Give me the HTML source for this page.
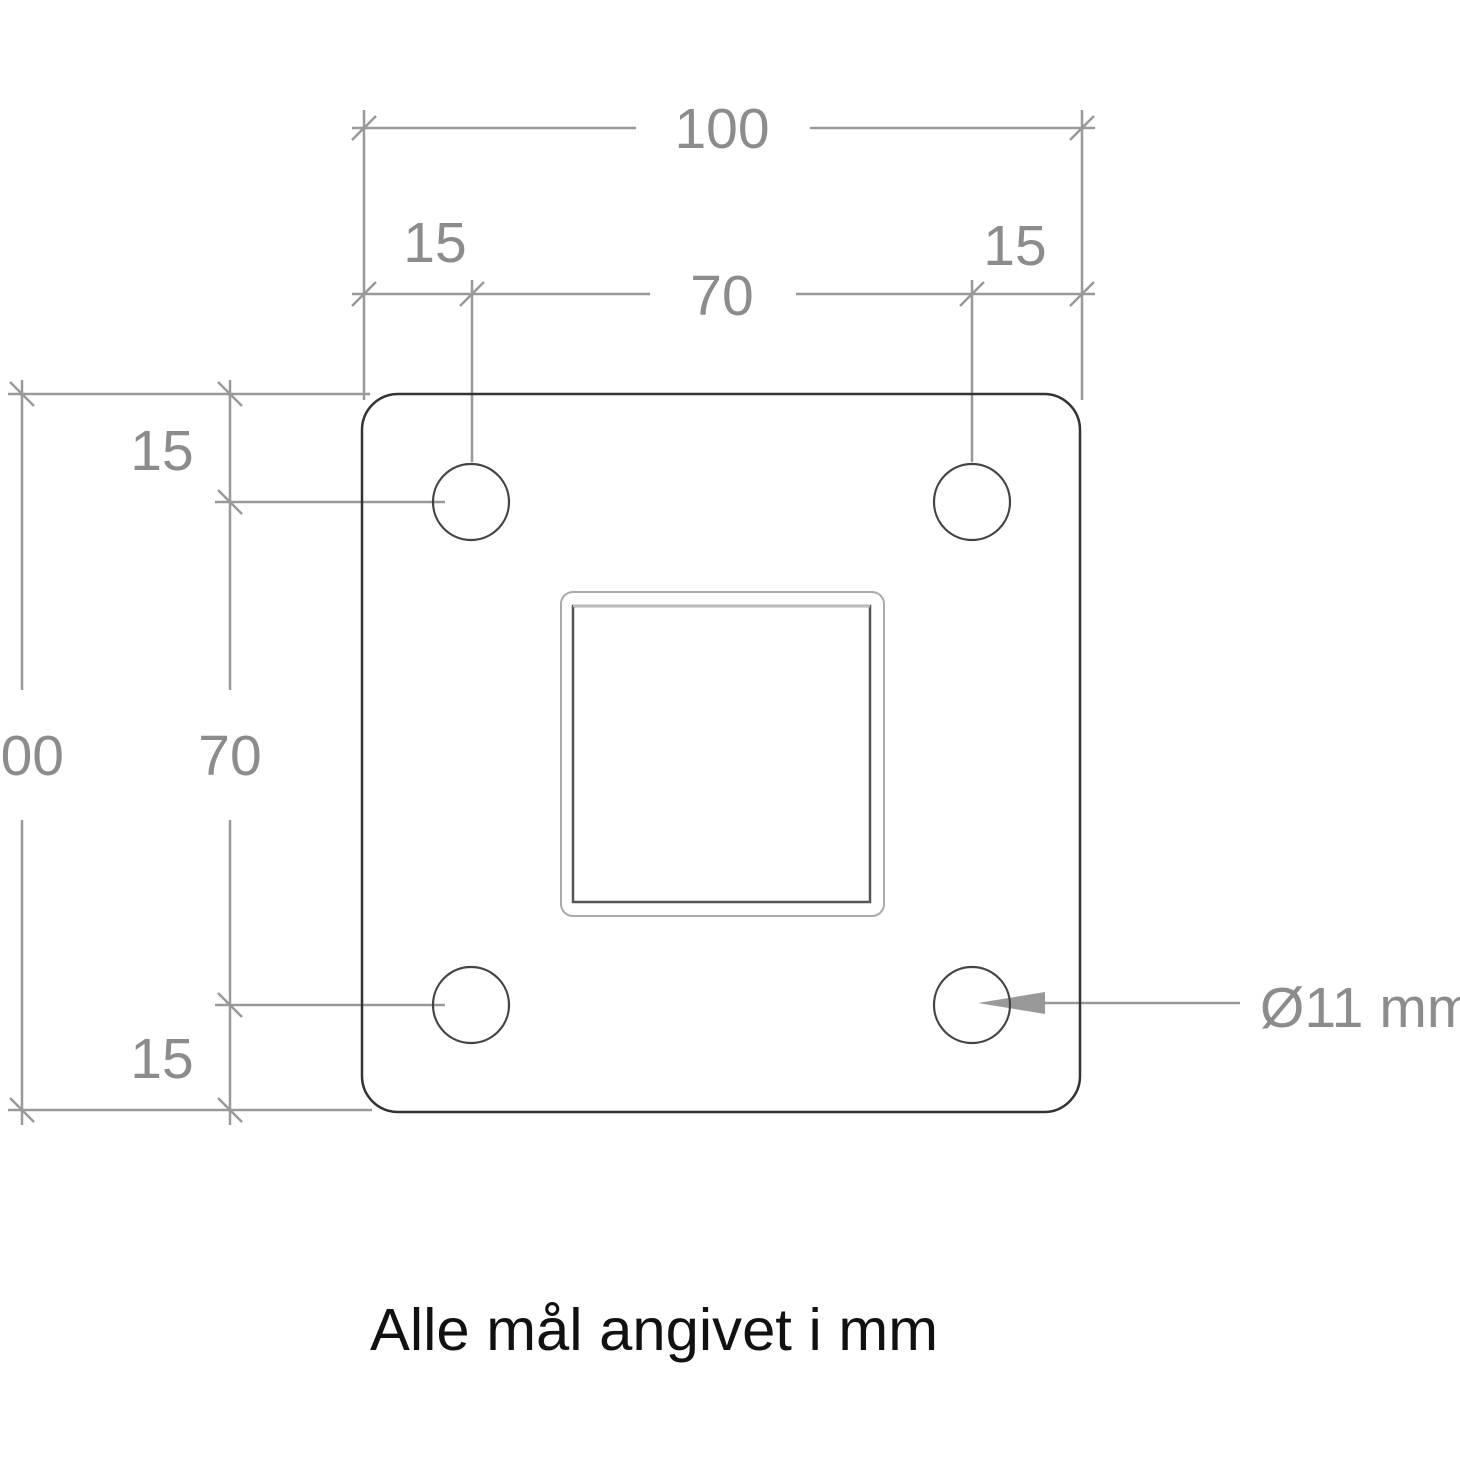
<!DOCTYPE html>
<html><head><style>html,body{margin:0;padding:0;background:#fff;overflow:hidden}</style></head>
<body>
<svg width="1460" height="1460" viewBox="0 0 1460 1460" xmlns="http://www.w3.org/2000/svg" font-family="Liberation Sans, sans-serif">
<g stroke="#999" stroke-width="2.5" fill="none">
<line x1="352" y1="128" x2="636" y2="128"/><line x1="810" y1="128" x2="1095" y2="128"/>
<line x1="364" y1="110" x2="364" y2="400"/><line x1="1082" y1="110" x2="1082" y2="400"/>
<line x1="352" y1="294" x2="650" y2="294"/><line x1="796" y1="294" x2="1095" y2="294"/>
<line x1="472" y1="280" x2="472" y2="462"/><line x1="972" y1="280" x2="972" y2="462"/>
<g stroke-width="2.5">
<line x1="352" y1="140" x2="376" y2="116"/><line x1="1070" y1="140" x2="1094" y2="116"/>
<line x1="352" y1="306" x2="376" y2="282"/><line x1="460" y1="306" x2="484" y2="282"/>
<line x1="960" y1="306" x2="984" y2="282"/><line x1="1070" y1="306" x2="1094" y2="282"/>
<line x1="10" y1="382" x2="34" y2="406"/><line x1="10" y1="1098" x2="34" y2="1122"/>
<line x1="218" y1="382" x2="242" y2="406"/><line x1="218" y1="490" x2="242" y2="514"/>
<line x1="218" y1="993" x2="242" y2="1017"/><line x1="218" y1="1098" x2="242" y2="1122"/>
</g>
<line x1="22" y1="380" x2="22" y2="690"/><line x1="22" y1="820" x2="22" y2="1125"/>
<line x1="230" y1="380" x2="230" y2="690"/><line x1="230" y1="820" x2="230" y2="1125"/>
<line x1="8" y1="394" x2="370" y2="394"/><line x1="8" y1="1110" x2="372" y2="1110"/>
<line x1="215" y1="502" x2="445" y2="502"/><line x1="215" y1="1005" x2="445" y2="1005"/>
<line x1="1000" y1="1003" x2="1240" y2="1003"/>
</g>
<polygon points="978,1003 1045,992 1045,1014" fill="#999"/>
<rect x="362" y="394" width="718" height="718" rx="36" fill="none" stroke="#333" stroke-width="2.5"/>
<g fill="none" stroke="#444" stroke-width="2.2">
<circle cx="471" cy="502" r="38"/><circle cx="972" cy="502" r="38"/>
<circle cx="471" cy="1005" r="38"/><circle cx="972" cy="1005" r="38"/>
</g>
<rect x="561" y="592" width="323" height="324" rx="12" fill="none" stroke="#aaa" stroke-width="2"/>
<rect x="573" y="606" width="297" height="296" fill="none" stroke="#555" stroke-width="2.5"/>
<line x1="573" y1="606" x2="870" y2="606" stroke="#bbb" stroke-width="2.5"/>
<g fill="#8c8c8c" font-size="57">
<text x="722" y="148" text-anchor="middle">100</text>
<text x="435" y="262" text-anchor="middle">15</text>
<text x="1015" y="265" text-anchor="middle">15</text>
<text x="722" y="315" text-anchor="middle">70</text>
<text x="162" y="470" text-anchor="middle">15</text>
<text x="162" y="1078" text-anchor="middle">15</text>
<text x="230" y="775" text-anchor="middle">70</text>
<text x="64" y="775" text-anchor="end">100</text>
<text x="1260" y="1027">Ø11 mm</text>
</g>
<text x="370" y="1350" font-size="59" fill="#111" textLength="568" lengthAdjust="spacingAndGlyphs">Alle mål angivet i mm</text>
</svg>
</body></html>
